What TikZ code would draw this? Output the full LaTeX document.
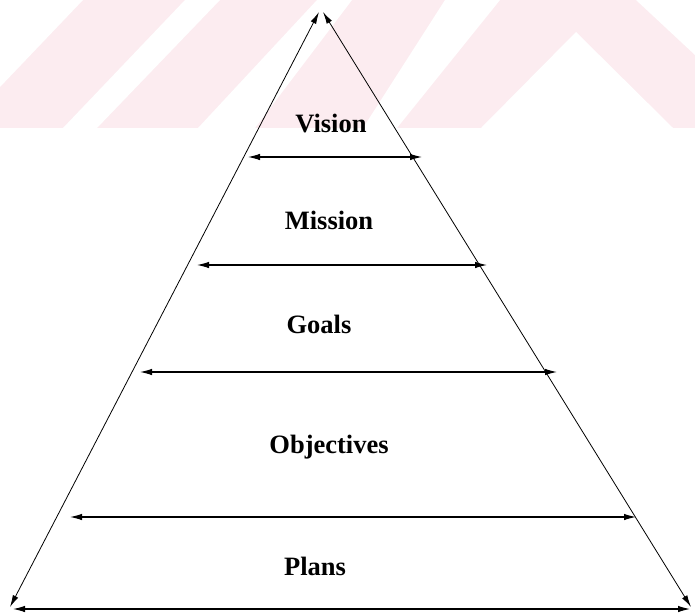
\documentclass[tikz,border=0pt]{standalone}
\usepackage{fontspec}
\setmainfont{Liberation Serif}
\usetikzlibrary{arrows.meta}
\definecolor{wmpink}{RGB}{252,236,240}
\begin{document}
\begin{tikzpicture}[x=1pt,y=-1pt,
  side/.style={line width=0.8pt,{Latex[length=12pt,width=6pt]}-{Latex[length=12pt,width=6pt]}},
  level/.style={line width=1.1pt,{Latex[length=12pt,width=6.5pt]}-{Latex[length=12pt,width=6.5pt]}},
  tier/.style={font=\bfseries\fontsize{26.5}{30}\selectfont,inner sep=0pt,anchor=base}]
\useasboundingbox (0,0) rectangle (695,613);
\fill[white] (0,0) rectangle (695,613);
% faint striped band along the top
\fill[wmpink] (0,0) rectangle (695,128);
\fill[white] (0,0) -- (83,0) -- (0,87) -- cycle;
\fill[white] (185,0) -- (220,0) -- (97,128) -- (63,128) -- cycle;
\fill[white] (317,0) -- (352,0) -- (255,128) -- (198,128) -- cycle;
\fill[white] (445,0) -- (500,0) -- (397,128) -- (363,128) -- cycle;
\fill[white] (576,32) -- (673,128) -- (481,128) -- cycle;
\fill[white] (636,0) -- (695,0) -- (695,55) -- cycle;

% pyramid outline
\coordinate (apexL) at (319,12);
\coordinate (apexR) at (323,12);
\coordinate (baseL) at (10,607);
\coordinate (baseR) at (691,607);
\draw[side] (baseL) -- (apexL);
\draw[side] (apexR) -- (baseR);

% tier dividers
\coordinate (v1) at (248,157); \coordinate (v2) at (422,157);
\coordinate (m1) at (197,265); \coordinate (m2) at (487,265);
\coordinate (g1) at (140,372); \coordinate (g2) at (557,372);
\coordinate (o1) at (70,517);  \coordinate (o2) at (636,517);
\coordinate (p1) at (13,609);  \coordinate (p2) at (690,609);
\draw[level] (v1) -- (v2);
\draw[level] (m1) -- (m2);
\draw[level] (g1) -- (g2);
\draw[level] (o1) -- (o2);
\draw[level] (p1) -- (p2);

% tier labels
\node[tier] (vision) at (331,132) {Vision};
\node[tier] (mission) at (329,229) {Mission};
\node[tier] (goals) at (319,333) {Goals};
\node[tier] (objectives) at (329,453) {Objectives};
\node[tier] (plans) at (315,575) {Plans};
\end{tikzpicture}
\end{document}
